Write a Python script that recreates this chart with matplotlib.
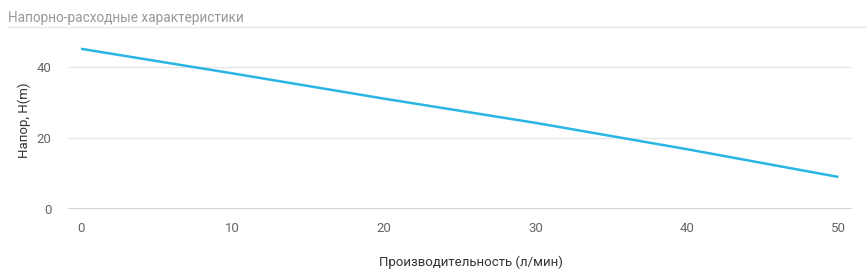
import numpy as np
import matplotlib.pyplot as plt
from matplotlib.lines import Line2D

plt.rcParams['font.family'] = ['Roboto', 'DejaVu Sans']

# Данные
flow = [0, 10, 20, 30, 40, 50]
head = [45, 38.1, 31.0, 24.2, 16.8, 9.0]
x_ticks = [0, 10, 20, 30, 40, 50]
y_ticks = [0, 20, 40]

fig = plt.figure(figsize=(8.67, 2.75), dpi=100)
ax = fig.add_axes([68 / 867, 1 - 209 / 275, (852 - 68) / 867, (209 - 31) / 275])

ax.plot(flow, head, color="#29b6e3", linewidth=1.8, solid_capstyle="butt")

ax.set_xlim(-0.86, 50.9)
ax.set_ylim(0, 50)
ax.set_xticks(x_ticks)
ax.set_yticks(y_ticks)

for s in ax.spines.values():
    s.set_visible(False)
ax.axhline(0, color="#cccccc", linewidth=1.2, zorder=1)
for v in y_ticks[1:]:
    ax.axhline(v, color="#e6e6e6", linewidth=1, zorder=0)

ax.tick_params(axis="both", length=0, colors="#666666", labelsize=9.5)
ax.tick_params(axis="x", pad=9)
ax.tick_params(axis="y", pad=12)

ax.set_xlabel("Производительность (л/мин)", fontsize=9.5, color="#333333")
ax.xaxis.set_label_coords((471 - 68) / (852 - 68), -0.26)
ax.set_ylabel("Напор, H(m)", fontsize=9.5, color="#333333", labelpad=4)

fig.text(8 / 867, 1 - 18 / 275, "Напорно-расходные характеристики", fontsize=9.8,
         color="#999999", va="center", ha="left")
fig.add_artist(Line2D([8 / 867, 1], [1 - 26.5 / 275] * 2, color="#e6e6e6",
                      linewidth=1, transform=fig.transFigure))

fig.savefig("out.png", dpi=100)
